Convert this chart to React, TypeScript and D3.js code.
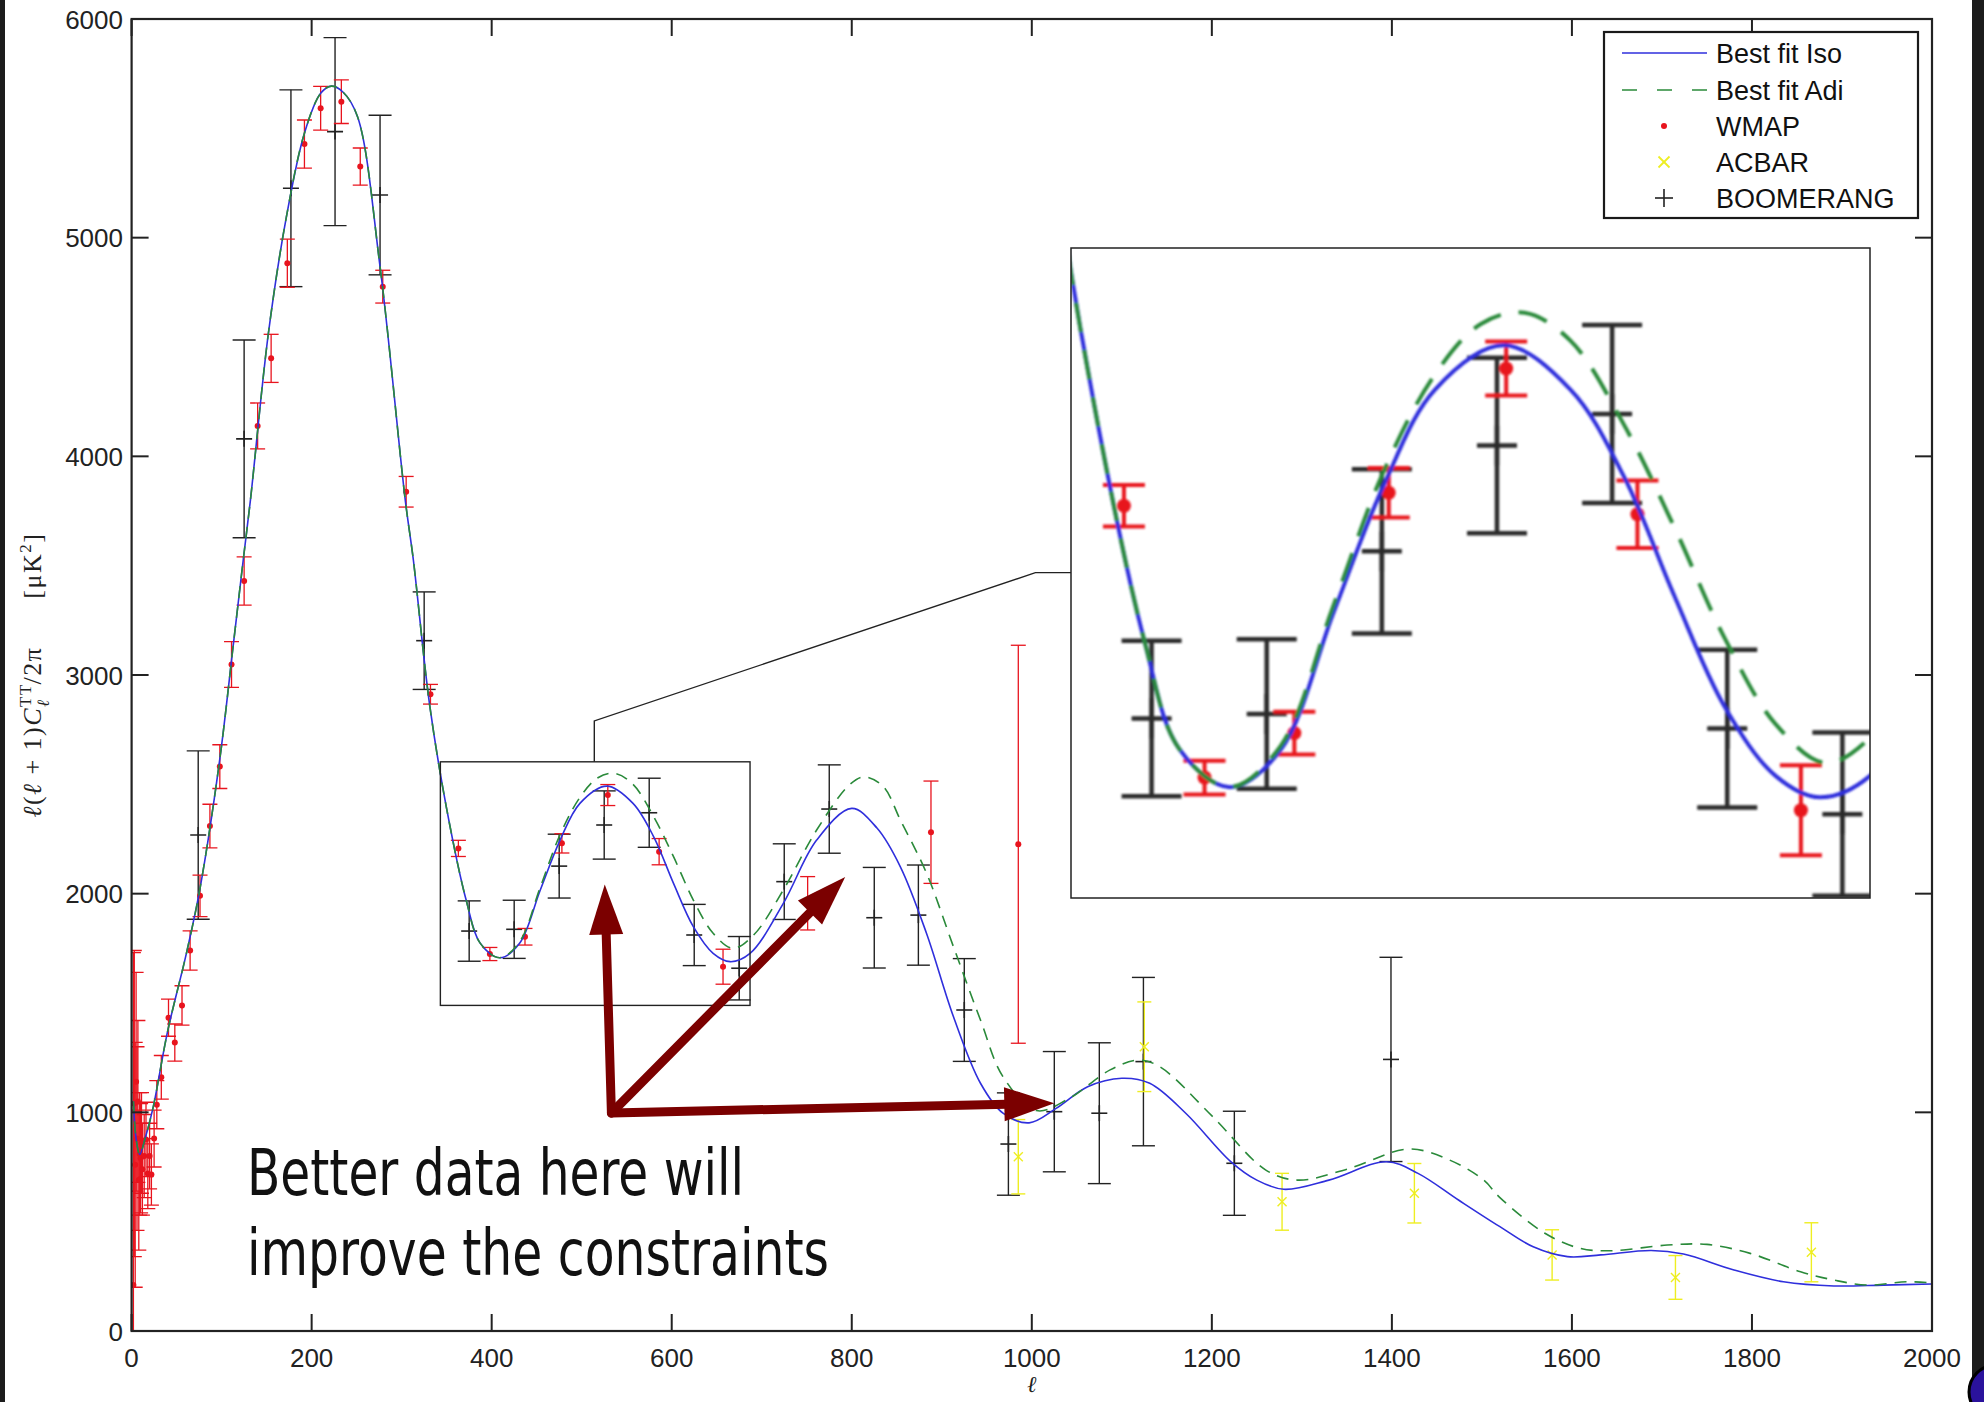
import React from "react";
import * as d3 from "d3";

const W = 1984;
const H = 1402;

const xTicks = [0, 200, 400, 600, 800, 1000, 1200, 1400, 1600, 1800, 2000];
const yTicks = [0, 1000, 2000, 3000, 4000, 5000, 6000];

// Best fit Iso (blue)
const isoL = [2, 5, 9, 15, 24, 40, 61, 76, 98, 113, 124, 132, 152, 172, 192, 210, 222, 235, 251, 276, 304, 313, 331, 350, 372, 387, 409, 431, 454, 476, 498, 528, 557, 580, 602, 624, 646, 665, 687, 724, 761, 800, 828, 854, 883, 913, 943, 968, 997, 1027, 1062, 1100, 1131, 1171, 1221, 1250, 1280, 1330, 1394, 1429, 1474, 1520, 1557, 1595, 1632, 1688, 1724, 1780, 1835, 1891, 1946, 2000];
const isoV = [1050, 880, 807, 880, 1024, 1370, 1729, 2024, 2616, 3139, 3526, 3800, 4564, 5096, 5478, 5660, 5693, 5665, 5553, 4867, 3800, 3526, 2866, 2388, 1965, 1775, 1707, 1773, 2017, 2245, 2413, 2492, 2413, 2260, 2047, 1849, 1727, 1689, 1727, 1956, 2245, 2390, 2300, 2123, 1819, 1437, 1133, 996, 952, 1018, 1117, 1156, 1133, 996, 775, 690, 648, 690, 774, 721, 599, 477, 385, 340, 348, 368, 352, 279, 225, 206, 210, 215];

// Best fit Adi (green dashed)
const adiL = [2, 5, 9, 15, 24, 40, 61, 76, 98, 113, 124, 132, 152, 172, 192, 210, 222, 235, 251, 276, 304, 313, 331, 350, 372, 387, 409, 431, 454, 476, 498, 518, 537, 557, 580, 602, 624, 646, 668, 691, 724, 761, 798, 814, 835, 854, 883, 913, 943, 968, 1005, 1040, 1087, 1118, 1142, 1201, 1260, 1295, 1350, 1419, 1464, 1502, 1520, 1570, 1609, 1643, 1706, 1750, 1798, 1854, 1891, 1928, 1972, 2000];
const adiV = [1050, 880, 807, 880, 1024, 1370, 1729, 2024, 2616, 3139, 3526, 3800, 4564, 5096, 5478, 5660, 5693, 5665, 5553, 4867, 3800, 3526, 2866, 2388, 1965, 1775, 1707, 1780, 2030, 2270, 2440, 2530, 2550, 2500, 2352, 2169, 1971, 1819, 1750, 1811, 2017, 2291, 2500, 2534, 2490, 2337, 2094, 1757, 1422, 1163, 1008, 1060, 1194, 1239, 1209, 980, 736, 690, 740, 832, 782, 690, 610, 447, 378, 367, 393, 396, 355, 271, 233, 210, 225, 220];

// WMAP (red dots)
const wmapL = [2, 3, 4, 5, 6, 7, 8, 9, 10, 11, 12, 14, 16, 18, 20, 22, 25, 28, 33, 41, 48, 56, 65, 76, 87, 98, 111, 125, 140, 155, 173, 192, 210, 233, 254, 279, 305, 332, 363, 398, 437, 478, 529, 586, 657, 751, 888, 985];
const wmapV = [210, 1040, 760, 1140, 880, 1050, 690, 810, 790, 860, 740, 800, 876, 720, 800, 716, 880, 1035, 1160, 1433, 1319, 1489, 1740, 1990, 2309, 2581, 3048, 3430, 4139, 4448, 4883, 5428, 5592, 5622, 5325, 4776, 3838, 2912, 2207, 1724, 1803, 2230, 2451, 2192, 1666, 1956, 2281, 2226];
const wmapE = [1520, 700, 560, 500, 420, 370, 320, 280, 250, 230, 210, 190, 170, 160, 150, 140, 130, 110, 100, 85, 85, 90, 90, 95, 100, 100, 105, 110, 105, 110, 110, 110, 100, 100, 85, 75, 70, 45, 37, 30, 38, 44, 48, 60, 80, 122, 234, 910];

// ACBAR (yellow x)
const acbarL = [985, 1125, 1278, 1425, 1578, 1715, 1866];
const acbarV = [797, 1300, 591, 630, 348, 245, 360];
const acbarE = [170, 205, 130, 136, 115, 100, 135];

// BOOMERANG (black +)
const boomL = [74, 125, 177, 226, 276, 325, 375, 425, 475, 525, 575, 625, 675, 725, 775, 825, 874, 925, 974, 1025, 1075, 1124, 1225, 1399];
const boomV = [2268, 4080, 5226, 5485, 5195, 3157, 1829, 1837, 2126, 2314, 2370, 1811, 1659, 2055, 2387, 1890, 1902, 1468, 855, 1003, 996, 1232, 767, 1242];
const boomE = [385, 452, 450, 430, 365, 223, 138, 133, 146, 156, 158, 140, 145, 173, 202, 230, 229, 235, 234, 275, 322, 385, 238, 467];

const legendLabels = ["Best fit Iso", "Best fit Adi", "WMAP", "ACBAR", "BOOMERANG"];
const noteLines = ["Better data here will", "improve the constraints"];

// zoom window (data coords) and arrow annotation (data coords)
const zoomBoxL = [343, 687];
const zoomBoxV = [1489, 2603];
const insetDomainL = [340, 687];
const insetDomainV = [1510, 2665];
const connector = [[514, 2603], [514, 2790], [1004, 3468], [1044, 3468]];
const arrowFrom = [533, 997];
const arrowTips = [[525.6, 2042], [792.7, 2076], [1025, 1042]];

const C = {
  blue: "#2f2fdc",
  green: "#2a8a3a",
  red: "#e8141e",
  yellow: "#eeee22",
  black: "#1a1a1a",
  arrow: "#7b0000",
};

const plot = { x0: 131.6, x1: 1932, y0: 19, y1: 1331 };
const inset = { x0: 1071, x1: 1870, y0: 248, y1: 898 };

type Scale = d3.ScaleLinear<number, number>;

function Marker({ kind, cx, cy, size, color, sw }: any) {
  if (kind === "dot") return <circle cx={cx} cy={cy} r={size} fill={color} />;
  if (kind === "plus")
    return (
      <g stroke={color} strokeWidth={sw}>
        <line x1={cx - size} x2={cx + size} y1={cy} y2={cy} />
        <line x1={cx} x2={cx} y1={cy - size} y2={cy + size} />
      </g>
    );
  return (
    <g stroke={color} strokeWidth={sw}>
      <line x1={cx - size} x2={cx + size} y1={cy - size} y2={cy + size} />
      <line x1={cx - size} x2={cx + size} y1={cy + size} y2={cy - size} />
    </g>
  );
}

function ErrorBars({ L, V, E, xs, ys, color, cap, sw, kind, msize, msw }: any) {
  return (
    <g>
      {L.map((l: number, i: number) => {
        const cx = xs(l);
        const top = ys(V[i] + E[i]);
        const bot = ys(V[i] - E[i]);
        const cy = ys(V[i]);
        return (
          <g key={i}>
            <g stroke={color} strokeWidth={sw}>
              <line x1={cx} x2={cx} y1={top} y2={bot} />
              <line x1={cx - cap / 2} x2={cx + cap / 2} y1={top} y2={top} />
              <line x1={cx - cap / 2} x2={cx + cap / 2} y1={bot} y2={bot} />
            </g>
            <Marker kind={kind} cx={cx} cy={cy} size={msize} color={color} sw={msw} />
          </g>
        );
      })}
    </g>
  );
}

function Layer({ xs, ys, big }: { xs: Scale; ys: Scale; big: boolean }) {
  const line = d3
    .line<[number, number]>()
    .x((d) => xs(d[0]))
    .y((d) => ys(d[1]))
    .curve(d3.curveCatmullRom.alpha(0.5));
  const iso = line(isoL.map((l, i) => [l, isoV[i]] as [number, number])) || "";
  const adi = line(adiL.map((l, i) => [l, adiV[i]] as [number, number])) || "";
  return (
    <g>
      <ErrorBars L={boomL} V={boomV} E={boomE} xs={xs} ys={ys} color={big ? "#2a2a2a" : "#222"}
        cap={big ? 60 : 23} sw={big ? 4.5 : 1.4} kind="plus" msize={big ? 20 : 8} msw={big ? 4.5 : 1.6} />
      <ErrorBars L={acbarL} V={acbarV} E={acbarE} xs={xs} ys={ys} color={C.yellow}
        cap={big ? 40 : 14} sw={big ? 4 : 1.4} kind="x" msize={big ? 10 : 4.5} msw={big ? 3 : 1.4} />
      <ErrorBars L={wmapL} V={wmapV} E={wmapE} xs={xs} ys={ys} color={C.red}
        cap={big ? 42 : 15} sw={big ? 4 : 1.3} kind="dot" msize={big ? 7 : 3} msw={1} />
      <path d={iso} fill="none" stroke={C.blue} strokeWidth={big ? 4 : 1.6} />
      <path d={adi} fill="none" stroke={C.green} strokeWidth={big ? 4 : 1.6}
        strokeDasharray={big ? "30 18" : "12 8"} />
    </g>
  );
}

function Arrow({ from, to }: { from: number[]; to: number[] }) {
  const dx = to[0] - from[0];
  const dy = to[1] - from[1];
  const len = Math.hypot(dx, dy);
  const ux = dx / len;
  const uy = dy / len;
  const headL = 50;
  const headW = 17;
  const bx = to[0] - ux * headL;
  const by = to[1] - uy * headL;
  const px = -uy;
  const py = ux;
  return (
    <g>
      <line x1={from[0]} y1={from[1]} x2={bx + ux * 2} y2={by + uy * 2} stroke={C.arrow} strokeWidth={9} strokeLinecap="round" />
      <polygon
        points={`${to[0]},${to[1]} ${bx + px * headW},${by + py * headW} ${bx - px * headW},${by - py * headW}`}
        fill={C.arrow}
      />
    </g>
  );
}

export default function App() {
  const x = d3.scaleLinear().domain([0, 2000]).range([plot.x0, plot.x1]);
  const y = d3.scaleLinear().domain([0, 6000]).range([plot.y1, plot.y0]);
  const xi = d3.scaleLinear().domain(insetDomainL).range([inset.x0, inset.x1]);
  const yi = d3.scaleLinear().domain(insetDomainV).range([inset.y1, inset.y0]);

  const tickFont = "'Liberation Sans', Arial, Helvetica, sans-serif";
  const tl = 17;

  const from = [x(arrowFrom[0]), y(arrowFrom[1])];
  const legendY = [53, 90, 126, 162, 198];
  const legX = 1664;

  return (
    <div style={{ position: "absolute", left: 0, top: 0, width: W, height: H }}>
      <svg width={W} height={H} viewBox={`0 0 ${W} ${H}`} style={{ display: "block" }}>
        <defs>
          <clipPath id="plotClip">
            <rect x={plot.x0} y={plot.y0} width={plot.x1 - plot.x0} height={plot.y1 - plot.y0} />
          </clipPath>
          <clipPath id="insetClip">
            <rect x={inset.x0} y={inset.y0} width={inset.x1 - inset.x0} height={inset.y1 - inset.y0} />
          </clipPath>
          <filter id="soft" x="-5%" y="-5%" width="110%" height="110%">
            <feGaussianBlur stdDeviation="1.1" />
          </filter>
        </defs>
        <rect x={0} y={0} width={W} height={H} fill="#ffffff" />
        <rect x={0} y={0} width={5} height={H} fill="#1c1c1c" />
        <rect x={1972} y={0} width={W - 1972} height={H} fill="#1c1c1c" />
        <circle cx={1996} cy={1392} r={27} fill="#2a129c" stroke="#000" strokeWidth={3} />

        {/* data */}
        <g clipPath="url(#plotClip)">
          <Layer xs={x} ys={y} big={false} />
        </g>

        {/* frame and ticks */}
        <g stroke="#222" strokeWidth={2}>
          <rect x={plot.x0} y={plot.y0} width={plot.x1 - plot.x0} height={plot.y1 - plot.y0} fill="none" strokeWidth={2.2} />
          {xTicks.map((t) => (
            <g key={"xt" + t}>
              <line x1={x(t)} x2={x(t)} y1={plot.y1} y2={plot.y1 - tl} />
              <line x1={x(t)} x2={x(t)} y1={plot.y0} y2={plot.y0 + tl} />
            </g>
          ))}
          {yTicks.map((t) => (
            <g key={"yt" + t}>
              <line x1={plot.x0} x2={plot.x0 + tl} y1={y(t)} y2={y(t)} />
              <line x1={plot.x1} x2={plot.x1 - tl} y1={y(t)} y2={y(t)} />
            </g>
          ))}
        </g>
        <g fontFamily={tickFont} fontSize={26} fill="#222">
          {xTicks.map((t) => (
            <text key={"xl" + t} x={x(t)} y={1367} textAnchor="middle">{t}</text>
          ))}
          {yTicks.map((t) => (
            <text key={"yl" + t} x={123} y={y(t) + 9.5} textAnchor="end">{t}</text>
          ))}
        </g>

        {/* axis labels */}
        <text x={x(1000)} y={1392} textAnchor="middle" fontFamily="'DejaVu Serif', 'Liberation Serif', serif" fontStyle="italic" fontSize={23} fill="#222">ℓ</text>
        <text transform={`translate(41, ${(plot.y0 + plot.y1) / 2}) rotate(-90)`} textAnchor="middle"
          fontFamily="'Liberation Serif', 'DejaVu Serif', serif" fontSize={26} letterSpacing={1.5} fill="#222">
          <tspan fontStyle="italic">ℓ</tspan>(<tspan fontStyle="italic">ℓ</tspan> + 1)<tspan fontStyle="italic">C</tspan>
          <tspan fontSize={17} dy={-10}>TT</tspan>
          <tspan fontSize={17} fontStyle="italic" dx={-24} dy={18}>ℓ</tspan>
          <tspan dx={14} dy={-8}>/2π</tspan>
          <tspan dx={48}>[μK</tspan>
          <tspan fontSize={17} dy={-10}>2</tspan>
          <tspan dy={10}>]</tspan>
        </text>

        {/* zoom box and connector */}
        <rect x={x(zoomBoxL[0])} y={y(zoomBoxV[1])} width={x(zoomBoxL[1]) - x(zoomBoxL[0])}
          height={y(zoomBoxV[0]) - y(zoomBoxV[1])} fill="none" stroke="#222" strokeWidth={1.4} />
        <polyline points={connector.map((p) => `${x(p[0])},${y(p[1])}`).join(" ")} fill="none" stroke="#222" strokeWidth={1.4} />

        {/* inset */}
        <rect x={inset.x0} y={inset.y0} width={inset.x1 - inset.x0} height={inset.y1 - inset.y0} fill="#fff" />
        <g clipPath="url(#insetClip)">
          <g filter="url(#soft)">
            <Layer xs={xi} ys={yi} big={true} />
          </g>
        </g>
        <rect x={inset.x0} y={inset.y0} width={inset.x1 - inset.x0} height={inset.y1 - inset.y0} fill="none" stroke="#222" strokeWidth={1.5} />

        {/* legend */}
        <g>
          <rect x={1604} y={32} width={314} height={186} fill="#fff" stroke="#1a1a1a" strokeWidth={2.2} />
          <line x1={1622} x2={1707} y1={legendY[0]} y2={legendY[0]} stroke={C.blue} strokeWidth={1.6} />
          <line x1={1622} x2={1707} y1={legendY[1]} y2={legendY[1]} stroke={C.green} strokeWidth={1.6} strokeDasharray="15 20" />
          <Marker kind="dot" cx={legX} cy={legendY[2]} size={3} color={C.red} sw={1} />
          <Marker kind="x" cx={legX} cy={legendY[3]} size={5.5} color={C.yellow} sw={1.8} />
          <Marker kind="plus" cx={legX} cy={legendY[4]} size={9} color="#222" sw={1.6} />
          <g fontFamily={tickFont} fontSize={27} fill="#111">
            {legendLabels.map((s, i) => (
              <text key={s} x={1716} y={legendY[i] + 9.5}>{s}</text>
            ))}
          </g>
        </g>

        {/* arrows */}
        {arrowTips.map((t, i) => (
          <Arrow key={i} from={from} to={[x(t[0]), y(t[1])]} />
        ))}

        {/* annotation text */}
        <g fontFamily="'DejaVu Sans Condensed', 'Liberation Sans Narrow', 'DejaVu Sans', sans-serif" fontStretch="condensed" fontSize={64} fill="#111">
          <text x={247} y={1195} textLength={497} lengthAdjust="spacingAndGlyphs">{noteLines[0]}</text>
          <text x={247} y={1275} textLength={582} lengthAdjust="spacingAndGlyphs">{noteLines[1]}</text>
        </g>
      </svg>
    </div>
  );
}
